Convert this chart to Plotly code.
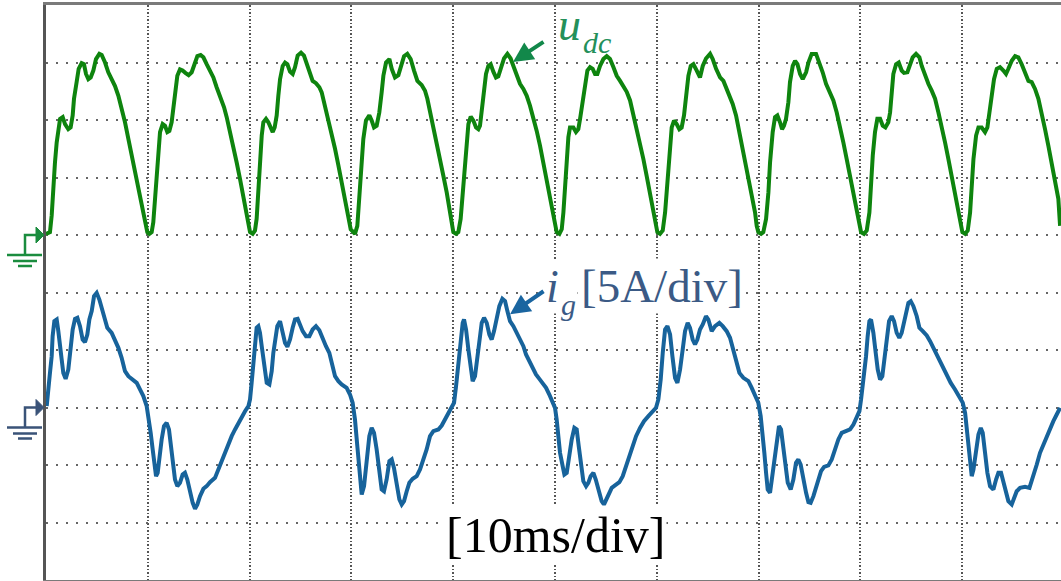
import plotly.graph_objects as go

# ---------------- data ----------------
# time in ms (10 ms/div), u_dc in divisions, i_g in A (5 A/div)
t_udc = [0, 0.39, 0.56, 0.72, 0.88, 1.05, 1.21, 1.38, 1.64, 1.87, 2.19, 2.42, 2.62, 2.75, 3.01, 3.21, 3.50, 3.73, 3.93, 4.16,
         4.39, 4.65, 4.91, 5.24, 5.47, 5.80, 6.12, 6.45, 6.78, 7.11, 7.43, 7.76, 8.09, 8.42, 8.74, 9.07, 9.40, 9.63, 9.82, 9.95,
         10.15, 10.38, 10.54, 10.71, 10.87, 11.03, 11.20, 11.46, 11.69, 11.92, 12.12, 12.34, 12.51, 12.67, 12.90, 13.16, 13.42, 13.69, 14.01, 14.31,
         14.64, 14.87, 15.19, 15.46, 15.78, 16.11, 16.44, 16.76, 17.09, 17.49, 17.75, 18.07, 18.40, 18.73, 19.06, 19.38, 19.65, 19.87, 20.04,
         20.30, 20.53, 20.69, 20.86, 21.02, 21.19, 21.35, 21.61, 21.84, 22.07, 22.27, 22.46, 22.66, 22.82, 22.99, 23.25, 23.48, 23.71, 23.97, 24.23,
         24.46, 24.72, 25.05, 25.34, 25.61, 25.93, 26.19, 26.52, 26.85, 27.08, 27.41, 27.73, 28.06, 28.39, 28.72, 29.04, 29.37, 29.70, 29.93, 30.12,
         30.35, 30.58, 30.78, 31.01, 31.17, 31.43, 31.76, 31.99, 32.22, 32.48, 32.74, 32.97, 33.14, 33.40, 33.73, 33.96, 34.28, 34.61, 34.87, 35.17,
         35.49, 35.82, 36.15, 36.48, 36.90, 37.23, 37.46, 37.72, 38.05, 38.38, 38.70, 39.03, 39.36, 39.62, 39.85, 40.01,
         40.28, 40.50, 40.73, 40.93, 41.16, 41.32, 41.49, 41.72, 41.98, 42.24, 42.47, 42.63, 42.80, 43.03, 43.22, 43.45, 43.68, 43.94, 44.20, 44.43,
         44.66, 44.99, 45.32, 45.64, 45.91, 46.23, 46.56, 46.89, 47.22, 47.54, 47.87, 48.20, 48.53, 48.85, 49.18, 49.51, 49.77, 50.00, 50.16,
         50.43, 50.66, 50.82, 50.98, 51.15, 51.31, 51.47, 51.80, 52.06, 52.29, 52.46, 52.72, 52.95, 53.18, 53.44, 53.70, 53.93, 54.16, 54.42, 54.75,
         55.08, 55.40, 55.73, 56.06, 56.39, 56.71, 57.04, 57.37, 57.69, 58.02, 58.35, 58.68, 59.00, 59.33, 59.66, 59.89, 60.05,
         60.31, 60.58, 60.81, 61.04, 61.30, 61.46, 61.69, 61.95, 62.21, 62.44, 62.67, 62.87, 63.10, 63.33, 63.59, 63.92, 64.24, 64.51, 64.83, 65.23,
         65.49, 65.82, 66.21, 66.54, 66.86, 67.19, 67.45, 67.78, 68.11, 68.43, 68.76, 69.09, 69.42, 69.65, 69.81, 69.97,
         70.24, 70.46, 70.73, 70.96, 71.12, 71.38, 71.61, 71.84, 72.10, 72.30, 72.49, 72.69, 72.92, 73.08, 73.35, 73.58, 73.81, 74.07, 74.33, 74.66,
         74.89, 75.21, 75.64, 75.97, 76.29, 76.62, 77.01, 77.34, 77.67, 77.99, 78.32, 78.65, 78.98, 79.31, 79.63, 79.90, 80.06,
         80.35, 80.62, 80.88, 81.01, 81.21, 81.43, 81.66, 81.93, 82.19, 82.45, 82.74, 82.91, 83.07, 83.23, 83.50, 83.76, 84.05, 84.28, 84.61, 84.87,
         85.13, 85.46, 85.79, 86.02, 86.35, 86.67, 87.00, 87.33, 87.66, 87.98, 88.31, 88.64, 88.97, 89.29, 89.62, 89.85, 90.01,
         90.28, 90.54, 90.77, 90.93, 91.10, 91.36, 91.59, 91.91, 92.24, 92.47, 92.67, 92.90, 93.12, 93.39, 93.71, 94.04, 94.30, 94.53, 94.86, 95.19,
         95.51, 95.84, 96.17, 96.50, 96.82, 97.15, 97.48, 97.81, 98.13, 98.46, 98.79, 99.12, 99.44, 99.61]
udc_div = [0.02, 0.05, 0.34, 0.86, 1.26, 1.61, 1.87, 2.02, 2.05, 1.93, 1.84, 1.87, 2.08, 2.37, 2.66, 2.89, 2.99, 2.97, 2.80, 2.71,
           2.74, 2.86, 3.06, 3.15, 3.13, 3.00, 2.83, 2.71, 2.59, 2.42, 2.22, 1.96, 1.67, 1.38, 1.09, 0.83, 0.57, 0.34, 0.16, 0.05,
           0.02, 0.05, 0.22, 0.63, 1.09, 1.55, 1.79, 1.93, 1.90, 1.79, 1.81, 1.96, 2.25, 2.54, 2.77, 2.88, 2.86, 2.82, 2.78, 2.83,
           3.00, 3.11, 3.13, 3.09, 2.97, 2.86, 2.74, 2.57, 2.42, 2.22, 2.05, 1.81, 1.55, 1.26, 0.97, 0.68, 0.39, 0.16, 0.05,
           0.02, 0.08, 0.28, 0.80, 1.38, 1.73, 1.96, 2.02, 1.96, 1.87, 1.79, 1.87, 2.08, 2.42, 2.71, 2.94, 3.00, 2.97, 2.84, 2.80,
           2.92, 3.12, 3.17, 3.12, 2.97, 2.80, 2.68, 2.64, 2.57, 2.48, 2.25, 1.99, 1.79, 1.50, 1.21, 0.89, 0.60, 0.31, 0.10, 0.05,
           0.02, 0.16, 0.63, 1.21, 1.67, 1.99, 2.08, 1.99, 1.87, 1.90, 2.13, 2.48, 2.77, 3.00, 3.06, 2.89, 2.74, 2.78, 2.94, 3.11,
           3.15, 3.06, 2.86, 2.68, 2.61, 2.51, 2.37, 2.16, 1.90, 1.61, 1.32, 1.03, 0.74, 0.45, 0.22, 0.05,
           0.02, 0.05, 0.28, 0.74, 1.32, 1.67, 1.93, 2.06, 1.99, 1.87, 1.84, 1.90, 2.13, 2.48, 2.80, 2.94, 2.97, 2.84, 2.74, 2.76,
           2.89, 3.07, 3.15, 3.07, 2.94, 2.77, 2.63, 2.54, 2.42, 2.25, 2.05, 1.81, 1.55, 1.26, 0.97, 0.68, 0.39, 0.16, 0.05,
           0.02, 0.10, 0.39, 0.86, 1.38, 1.70, 1.87, 1.87, 1.79, 1.84, 2.02, 2.31, 2.66, 2.86, 2.92, 2.89, 2.80, 2.80, 2.94, 3.06,
           3.11, 3.06, 2.92, 2.77, 2.68, 2.60, 2.49, 2.34, 2.10, 1.87, 1.61, 1.32, 1.03, 0.74, 0.45, 0.22, 0.05,
           0.02, 0.08, 0.39, 0.86, 1.55, 1.87, 1.99, 1.93, 1.84, 1.87, 2.08, 2.42, 2.77, 2.94, 2.97, 2.86, 2.74, 2.94, 3.07, 3.15,
           3.06, 2.89, 2.74, 2.68, 2.54, 2.39, 2.28, 2.08, 1.79, 1.50, 1.21, 0.92, 0.63, 0.39, 0.16, 0.05,
           0.02, 0.05, 0.28, 0.74, 1.26, 1.79, 2.05, 2.08, 1.96, 1.84, 1.90, 2.02, 2.31, 2.66, 2.94, 3.03, 2.97, 2.80, 2.71, 2.83,
           3.00, 3.15, 3.15, 3.00, 2.83, 2.63, 2.48, 2.34, 2.13, 1.90, 1.61, 1.32, 1.03, 0.74, 0.45, 0.22, 0.05,
           0.02, 0.08, 0.39, 0.86, 1.38, 1.79, 2.02, 2.02, 1.90, 1.87, 1.96, 2.13, 2.48, 2.80, 2.97, 3.00, 2.86, 2.82, 2.83, 2.97,
           3.09, 3.15, 3.09, 2.94, 2.77, 2.63, 2.51, 2.37, 2.13, 1.90, 1.61, 1.32, 1.03, 0.74, 0.45, 0.22, 0.05,
           0.02, 0.08, 0.39, 0.86, 1.32, 1.73, 1.87, 1.87, 1.79, 1.87, 2.13, 2.42, 2.71, 2.89, 2.92, 2.86, 2.80, 2.89, 3.03, 3.11,
           3.09, 2.97, 2.80, 2.68, 2.66, 2.54, 2.37, 2.13, 1.84, 1.55, 1.26, 0.97, 0.63, 0.16]

t_ig = [0.07, 0.23, 0.39, 0.56, 0.65, 0.82, 1.05, 1.21, 1.38, 1.54, 1.70, 1.93, 2.19, 2.36, 2.62, 2.85, 3.08, 3.34, 3.60, 3.83,
        4.06, 4.26, 4.49, 4.72, 4.98, 5.24, 5.47, 5.80, 6.02, 6.45, 6.78, 7.11, 7.43, 7.76, 8.09, 8.58, 8.91, 9.23, 9.56, 9.89,
        10.12, 10.28, 10.48, 10.64, 10.81, 10.97, 11.13, 11.36, 11.59, 11.85, 12.08, 12.25, 12.44, 12.67, 12.90, 13.16, 13.42, 13.65, 13.88, 14.15,
        14.41, 14.64, 14.87, 15.13, 15.46, 15.78, 16.11, 16.60, 16.93, 17.26, 17.58, 17.91, 18.24, 18.57, 18.89, 19.22, 19.55, 19.88,
        20.04, 20.20, 20.37, 20.53, 20.69, 20.86, 21.02, 21.19, 21.35, 21.51, 21.68, 21.94, 22.17, 22.33, 22.50, 22.72, 22.99, 23.25, 23.48, 23.71,
        23.97, 24.23, 24.46, 24.72, 24.95, 25.21, 25.54, 25.87, 26.19, 26.52, 26.85, 27.18, 27.50, 27.83, 28.06, 28.39, 28.72, 29.04, 29.53, 29.86,
        30.12, 30.35, 30.58, 30.78, 31.01, 31.24, 31.50, 31.76, 31.99, 32.22, 32.48, 32.74, 32.97, 33.20, 33.46, 33.73, 33.96, 34.18, 34.45, 34.71,
        34.94, 35.17, 35.43, 35.69, 36.02, 36.41, 36.74, 37.07, 37.39, 37.72, 38.05, 38.54, 38.87, 39.19, 39.52, 39.85,
        40.08, 40.28, 40.50, 40.73, 40.93, 41.06, 41.26, 41.49, 41.72, 41.91, 42.14, 42.30, 42.57, 42.80, 43.03, 43.29, 43.55, 43.78, 44.01, 44.27,
        44.53, 44.83, 45.09, 45.32, 45.58, 45.91, 46.23, 46.56, 46.89, 47.15, 47.48, 47.81, 48.13, 48.46, 48.79, 49.12, 49.44, 49.77, 50.00,
        50.16, 50.33, 50.49, 50.75, 50.92, 51.15, 51.38, 51.64, 51.90, 52.13, 52.33, 52.52, 52.78, 53.05, 53.27, 53.50, 53.77, 54.00, 54.26, 54.58,
        54.81, 55.08, 55.34, 55.57, 55.89, 56.32, 56.65, 56.97, 57.30, 57.63, 57.96, 58.35, 58.74, 59.17, 59.59, 59.92,
        60.15, 60.38, 60.58, 60.81, 61.04, 61.30, 61.53, 61.79, 62.02, 62.28, 62.54, 62.77, 63.03, 63.26, 63.52, 63.75, 63.98, 64.24, 64.51, 64.83,
        65.06, 65.39, 65.72, 66.14, 66.47, 66.86, 67.19, 67.52, 67.78, 68.11, 68.50, 68.99, 69.32, 69.65, 69.97,
        70.20, 70.40, 70.56, 70.73, 70.89, 71.12, 71.28, 71.51, 71.77, 72.00, 72.20, 72.43, 72.66, 72.86, 73.15, 73.41, 73.67, 73.90, 74.13, 74.39,
        74.66, 74.89, 75.11, 75.38, 75.64, 75.87, 76.13, 76.43, 76.85, 77.18, 77.51, 77.83, 78.16, 78.55, 78.98, 79.31, 79.63, 79.90,
        80.06, 80.22, 80.39, 80.55, 80.71, 80.88, 81.04, 81.27, 81.50, 81.70, 81.93, 82.15, 82.35, 82.58, 82.81, 83.07, 83.30, 83.56, 83.82, 84.05,
        84.28, 84.48, 84.71, 84.94, 85.20, 85.53, 85.79, 86.12, 86.51, 86.84, 87.16, 87.49, 87.82, 88.15, 88.47, 88.87, 89.29, 89.72, 90.05,
        90.28, 90.44, 90.60, 90.77, 90.93, 91.10, 91.36, 91.59, 91.82, 92.01, 92.24, 92.47, 92.73, 93.06, 93.32, 93.55, 93.81, 94.04, 94.30, 94.53,
        94.86, 95.09, 95.35, 95.68, 96.17, 96.60, 96.83, 97.06, 97.32, 97.64, 97.97, 98.30, 98.62, 98.95, 99.28, 99.61]
ig_A = [0.12, 1.28, 3.01, 4.46, 6.20, 7.51, 7.65, 6.64, 5.62, 4.17, 3.01, 2.49, 3.30, 5.04, 6.78, 7.71, 7.80, 7.07, 5.91, 5.68,
        6.35, 7.65, 8.38, 9.68, 9.97, 9.39, 8.67, 7.65, 6.93, 6.49, 5.91, 5.19, 4.32, 3.16, 2.72, 2.43, 2.14, 1.57, 0.99, 0.12,
        -1.04, -2.20, -3.65, -5.10, -5.97, -5.68, -4.23, -2.78, -1.62, -1.33, -1.91, -3.36, -4.81, -6.26, -6.84, -6.55, -5.83, -5.68, -6.26, -7.42,
        -8.29, -8.81, -8.43, -7.71, -7.07, -6.84, -6.49, -6.12, -5.39, -4.52, -3.80, -3.22, -2.49, -1.91, -1.33, -0.75, -0.32, 0.12,
        0.70, 2.14, 3.88, 5.33, 6.93, 7.07, 6.49, 5.33, 4.17, 3.01, 2.14, 2.00, 3.16, 4.75, 5.91, 7.07, 7.51, 6.64, 5.62, 5.28,
        5.91, 6.93, 7.65, 7.71, 7.22, 6.64, 6.20, 6.20, 6.78, 7.07, 6.72, 5.91, 5.33, 4.75, 3.88, 2.72, 2.29, 2.00, 1.71, 1.13,
        0.41, -1.04, -3.36, -5.68, -7.57, -6.84, -4.52, -2.49, -1.77, -2.20, -3.65, -5.39, -7.13, -7.28, -6.26, -4.67, -4.52, -5.25, -6.84, -8.00,
        -8.43, -8.14, -7.28, -6.55, -6.20, -5.97, -5.39, -4.52, -3.65, -2.49, -2.06, -1.91, -1.57, -1.04, -0.46, -0.03,
        0.41, 1.86, 3.59, 5.91, 7.36, 7.65, 6.78, 5.04, 3.30, 2.29, 2.72, 3.88, 5.62, 7.36, 7.80, 7.36, 6.35, 5.91, 6.64, 7.94,
        8.81, 9.45, 9.25, 8.38, 7.51, 7.07, 6.49, 5.91, 5.33, 4.61, 4.03, 3.45, 2.87, 2.49, 2.14, 1.71, 1.13, 0.55, -0.03,
        -1.04, -2.49, -3.94, -5.10, -5.83, -5.68, -4.23, -2.78, -1.77, -1.91, -3.36, -4.96, -6.41, -6.84, -6.55, -5.97, -5.68, -6.26, -7.28, -8.14,
        -8.43, -7.94, -7.42, -6.99, -6.78, -6.49, -5.97, -5.10, -4.23, -3.36, -2.49, -1.77, -1.19, -0.75, -0.32, -0.03,
        0.70, 2.43, 4.75, 6.78, 7.07, 6.35, 4.46, 2.58, 2.14, 3.30, 5.04, 6.64, 7.36, 6.93, 5.91, 5.48, 5.91, 6.78, 7.22, 7.94,
        7.65, 6.64, 7.07, 7.36, 7.07, 6.64, 6.06, 4.90, 3.88, 3.01, 2.58, 2.29, 1.71, 1.13, 0.41,
        -0.75, -2.20, -3.94, -5.68, -7.13, -7.42, -6.26, -4.52, -2.78, -1.62, -1.91, -3.36, -5.10, -6.55, -7.13, -6.26, -4.81, -4.52, -4.96, -6.26,
        -7.42, -8.23, -8.29, -7.71, -6.84, -6.12, -5.54, -5.16, -5.04, -4.52, -3.65, -2.78, -2.20, -2.06, -1.91, -1.48, -0.90, -0.32,
        0.70, 1.86, 3.01, 4.46, 6.20, 7.51, 7.65, 6.49, 4.75, 3.30, 2.43, 2.72, 4.17, 5.91, 7.51, 7.94, 7.51, 6.49, 6.06, 6.49,
        7.51, 8.52, 9.10, 9.25, 8.81, 7.94, 6.93, 6.64, 6.26, 5.77, 5.19, 4.46, 3.88, 3.30, 2.72, 2.14, 1.57, 0.99, 0.41,
        -0.46, -1.91, -3.65, -5.10, -5.97, -5.39, -3.65, -2.35, -1.77, -2.20, -3.94, -5.68, -6.84, -7.13, -6.26, -5.68, -5.68, -6.55, -7.42, -8.14,
        -8.43, -7.86, -7.28, -6.99, -6.90, -6.99, -6.41, -5.68, -4.96, -3.94, -3.22, -2.49, -1.77, -1.19, -0.61, -0.03]

# screen settings: 10 ms/div, 10 vertical divisions, CH1 ground 4 div below top, CH2 (5 A/div) 3 div above bottom
time_range = [0, 99.7]
udc_range = [-6, 4]
ig_range = [-15, 35]

GREEN = "#0e840e"
BLUE = "#17639b"
GREEN_LABEL = "#24905a"
BLUE_LABEL = "#3b5a85"
SERIF = "Liberation Serif, Times New Roman, serif"

fig = go.Figure()
fig.add_trace(go.Scatter(x=t_udc, y=udc_div, mode="lines", yaxis="y",
                         line=dict(color=GREEN, width=4), hoverinfo="skip"))
fig.add_trace(go.Scatter(x=t_ig, y=ig_A, mode="lines", yaxis="y2",
                         line=dict(color=BLUE, width=4), hoverinfo="skip"))


def ground_marker(yref, color):
    common = dict(xref="paper", yref=yref, xsizemode="pixel", ysizemode="pixel",
                  xanchor=0, yanchor=0, layer="above")
    return [
        dict(type="path", path="M -21,-20 L -21,0 L -10,0", line=dict(color=color, width=2.5), **common),
        dict(type="path", path="M -10,8 L -2,0 L -10,-8 Z", fillcolor=color, line=dict(color=color, width=1), **common),
        dict(type="path", path="M -39,-20 L -4,-20 M -33,-26 L -9,-26 M -28,-31 L -14,-31",
             line=dict(color=color, width=2.5), **common),
    ]


shapes = ground_marker("y", "#1a8c3e") + ground_marker("y2", "#3a5378")

annotations = [
    dict(text="<i>u</i>", x=51.4, y=3.66, xref="x", yref="y", showarrow=False,
         font=dict(family=SERIF, size=46, color=GREEN_LABEL), xanchor="center", yanchor="middle"),
    dict(text="<i>dc</i>", x=54.1, y=3.34, xref="x", yref="y", showarrow=False,
         font=dict(family=SERIF, size=30, color=GREEN_LABEL), xanchor="center", yanchor="middle"),
    dict(text="<i>i</i>", x=49.75, y=10.5, xref="x", yref="y2", showarrow=False, bgcolor="white",
         font=dict(family=SERIF, size=46, color=BLUE_LABEL), xanchor="center", yanchor="middle"),
    dict(text="<i>g</i>", x=51.3, y=8.96, xref="x", yref="y2", showarrow=False, bgcolor="white",
         font=dict(family=SERIF, size=30, color=BLUE_LABEL), xanchor="center", yanchor="middle"),
    dict(text="[5A/div]", x=60.5, y=10.55, xref="x", yref="y2", showarrow=False, bgcolor="white",
         font=dict(family=SERIF, size=47, color=BLUE_LABEL), xanchor="center", yanchor="middle"),
    dict(text="[10ms/div]", x=50.0, y=-5.22, xref="x", yref="y", showarrow=False, bgcolor="white",
         font=dict(family=SERIF, size=50, color="black"), xanchor="center", yanchor="middle"),
    dict(text="", x=45.87, y=3.01, xref="x", yref="y", showarrow=True, ax=32, ay=-21,
         arrowhead=2, arrowsize=1, arrowwidth=4, arrowcolor="#12884a", standoff=0),
    dict(text="", x=45.58, y=8.11, xref="x", yref="y2", showarrow=True, ax=35, ay=-24,
         arrowhead=2, arrowsize=1, arrowwidth=4, arrowcolor="#1a65a0", standoff=0),
]

fig.update_layout(
    width=1061, height=581,
    margin=dict(l=46, r=0, t=5, b=1, pad=0),
    paper_bgcolor="white", plot_bgcolor="white",
    showlegend=False,
    xaxis=dict(range=time_range, dtick=10, tick0=0, showticklabels=False, ticks="",
               showgrid=True, gridcolor="#555555", gridwidth=1.5, griddash="1.5px,2px",
               zeroline=False, showline=True, linecolor="#7a7a7a", linewidth=2.5, mirror=True,
               fixedrange=True),
    yaxis=dict(range=udc_range, dtick=1, tick0=0, showticklabels=False, ticks="",
               showgrid=True, gridcolor="#666666", gridwidth=2, griddash="2px,8px",
               zeroline=False, showline=True, linecolor="#555555", linewidth=2.5, mirror=False,
               fixedrange=True),
    yaxis2=dict(range=ig_range, overlaying="y", showticklabels=False, ticks="", showgrid=False,
                zeroline=False, showline=False, fixedrange=True),
    shapes=shapes,
    annotations=annotations,
)

fig.write_html("out.html", config={"displayModeBar": False},
               post_script="document.body.style.margin='0';document.body.style.overflow='hidden';")
